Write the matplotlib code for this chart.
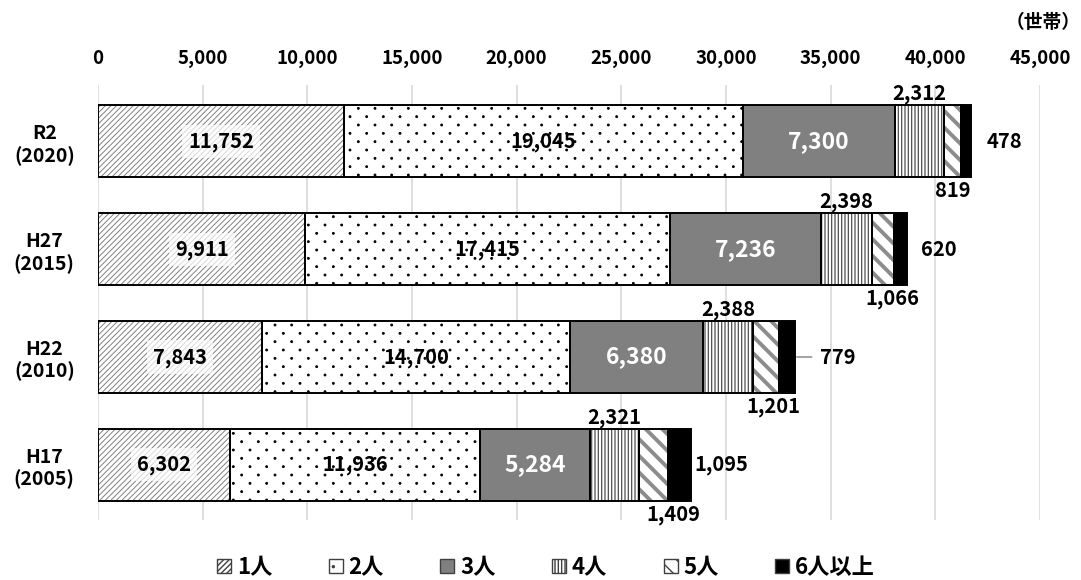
import matplotlib
matplotlib.use('Agg')
import matplotlib.pyplot as plt
import matplotlib.hatch as mhatch
from matplotlib.path import Path
from matplotlib.patches import Patch
import numpy as np

plt.rcParams['font.family'] = ['Noto Sans CJK JP', 'DejaVu Sans']
plt.rcParams['font.weight'] = 'bold'

# ---- data ----
years = ['R2\n(2020)', 'H27\n(2015)', 'H22\n(2010)', 'H17\n(2005)']
series_names = ['1人', '2人', '3人', '4人', '5人', '6人以上']
p1 = [11752, 9911, 7843, 6302]
p2 = [19045, 17415, 14700, 11936]
p3 = [7300, 7236, 6380, 5284]
p4 = [2312, 2398, 2388, 2321]
p5 = [819, 1066, 1201, 1409]
p6 = [478, 620, 779, 1095]
xticks = [0, 5000, 10000, 15000, 20000, 25000, 30000, 35000, 40000, 45000]
unit_label = '（世帯）'

series = [p1, p2, p3, p4, p5, p6]


# ---- custom sparse staggered dot texture for '.' hatch ----
class SparseDots(mhatch.HatchPatternBase):
    ncols = 6
    nrows = 12
    radius = 0.01

    def __init__(self, hatch, density):
        n = hatch.count('.')
        self.positions = []
        if n > 0:
            for r in range(self.nrows + 1):
                if r % 2 == 0:
                    cols = np.linspace(0, 1, self.ncols + 1)
                else:
                    cols = np.linspace(0.5 / self.ncols, 1 - 0.5 / self.ncols, self.ncols)
                for c in cols:
                    self.positions.append((c, r / self.nrows))
        circ = Path.unit_circle()
        self.sv = circ.vertices * self.radius
        self.sc = circ.codes
        self.num_vertices = len(self.positions) * len(self.sv)

    def set_vertices_and_codes(self, vertices, codes):
        vparts = [self.sv + np.array(p) for p in self.positions]
        cparts = [self.sc for _ in self.positions]
        np.concatenate(vparts, out=vertices)
        np.concatenate(cparts, out=codes)


mhatch._hatch_types = [SparseDots if t is mhatch.SmallFilledCircles else t
                       for t in mhatch._hatch_types]

# ---- styles ----
faces = ['white', 'white', '#808080', 'white', 'white', 'black']
hatches = ['//////', '.', None, '|||||', '\\\\', None]
hatch_colors = ['#808080', 'black', '#808080', '#505050', '#8c8c8c', 'black']
hatch_lws = [0.7, 0.6, 1.0, 0.9, 2.8, 1.0]
below_dx = [0, 10, 7, 20]          # px offsets for 5人 labels
right_dx = [16, 14, 25, 3]         # px offsets for 6人以上 labels
leader = [False, False, True, False]
lab_fs = 14.5

fig = plt.figure(figsize=(10.81, 5.80), dpi=100)
ax = fig.add_axes([98 / 1081, 1 - 520 / 580, (1040 - 98) / 1081, 435 / 580])

y = np.arange(len(years))
h = 0.667
left = np.zeros(len(years))
for i, vals in enumerate(series):
    vals = np.array(vals, dtype=float)
    with plt.rc_context({'hatch.linewidth': hatch_lws[i], 'hatch.color': hatch_colors[i]}):
        bars = ax.barh(y, vals, left=left, height=h, color=faces[i],
                       edgecolor=hatch_colors[i], linewidth=0, hatch=hatches[i], zorder=2)
        for b in bars:
            if hasattr(b, 'set_hatch_linewidth'):
                b.set_hatch_linewidth(hatch_lws[i])
    ax.barh(y, vals, left=left, height=h, fill=False, edgecolor='black', linewidth=1.4, zorder=3)
    left = left + vals

left = np.zeros(len(years))
for i, vals in enumerate(series):
    for j, v in enumerate(vals):
        cx = left[j] + v / 2
        txt = f'{v:,}'
        if i == 0:
            ax.text(cx, y[j], txt, ha='center', va='center', fontsize=lab_fs, fontweight='bold', zorder=5,
                    bbox=dict(boxstyle='square,pad=0.3', fc='white', ec='none', alpha=0.7))
        elif i == 1:
            ax.text(cx, y[j], txt, ha='center', va='center', fontsize=lab_fs, fontweight='bold', zorder=5)
        elif i == 2:
            ax.text(cx, y[j], txt, ha='center', va='center', fontsize=16.5, fontweight='bold',
                    color='white', zorder=5)
        elif i == 3:
            ax.annotate(txt, (cx, y[j] - h / 2), xytext=(0, 1), textcoords='offset pixels',
                        ha='center', va='bottom', fontsize=lab_fs, fontweight='bold', zorder=5)
        elif i == 4:
            ax.annotate(txt, (cx, y[j] + h / 2), xytext=(below_dx[j], -3), textcoords='offset pixels',
                        ha='center', va='top', fontsize=lab_fs, fontweight='bold', zorder=5)
        else:
            end = left[j] + v
            if leader[j]:
                ax.annotate(txt, (end, y[j]), xytext=(right_dx[j], 0), textcoords='offset pixels',
                            ha='left', va='center', fontsize=lab_fs, fontweight='bold', zorder=5,
                            arrowprops=dict(arrowstyle='-', color='#a6a6a6', lw=1.5,
                                            shrinkA=4, shrinkB=1.5))
            else:
                ax.annotate(txt, (end, y[j]), xytext=(right_dx[j], 0), textcoords='offset pixels',
                            ha='left', va='center', fontsize=lab_fs, fontweight='bold', zorder=5)
    left = left + np.array(vals, dtype=float)

ax.set_xlim(0, 45000)
ax.set_ylim(3.51, -0.52)
ax.set_xticks(xticks)
ax.set_xticklabels([f'{t:,}' for t in xticks], fontsize=13.5, fontweight='bold')
ax.xaxis.tick_top()
ax.tick_params(axis='x', length=0, pad=12)
ax.set_yticks(y)
ax.set_yticklabels(years, fontsize=14, fontweight='bold', multialignment='center')
for lbl in ax.get_yticklabels():
    lbl.set_horizontalalignment('center')
    lbl.set_x(-0.057)
ax.tick_params(axis='y', length=0, pad=0)
ax.grid(axis='x', color='#d9d9d9', linewidth=1.2, zorder=0)
ax.set_axisbelow(True)
for s in ax.spines.values():
    s.set_visible(False)

fig.text(1.0, 0.962, unit_label, ha='right', va='center', fontsize=13.5, fontweight='bold')

handles = []
for i in range(6):
    handles.append(Patch(facecolor=faces[i], edgecolor='#404040', hatch=hatches[i], linewidth=1.0))
with plt.rc_context({'hatch.linewidth': 1.0, 'hatch.color': '#606060'}):
    leg = fig.legend(handles, series_names, loc='center', bbox_to_anchor=(0.505, 0.022), ncol=6,
                     frameon=False, prop={'size': 16, 'weight': 'bold'},
                     handlelength=0.63, handleheight=0.63, handletextpad=0.25, columnspacing=2.55)

fig.savefig('out.png', dpi=100)
